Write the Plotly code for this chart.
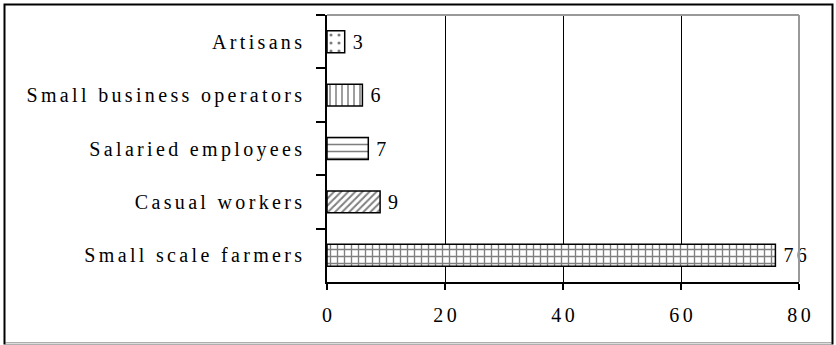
import plotly.graph_objects as go

# Occupation categories (top to bottom) and their shares in percent
categories = [
    "Artisans",
    "Small business operators",
    "Salaried employees",
    "Casual workers",
    "Small scale farmers",
]
values = [3, 6, 7, 9, 76]
patterns = [".", "|", "-", "/", "+"]
x_ticks = [0, 20, 40, 60, 80]

TRACK = "\u2006"   # six-per-em space used as letter tracking
LEAD = "\u2005"    # small lead-in gap before the bar value labels


def tracked(s):
    """Spread the letters of a label with narrow spaces."""
    return TRACK.join(list(s))


FONT = "Liberation Serif, Times New Roman, serif"
FS = 20

W, H = 836, 345
L, R, T, B = 327, 799, 15, 282

fig = go.Figure(
    go.Bar(
        x=values,
        y=[tracked(c) for c in categories],
        orientation="h",
        text=[LEAD + tracked(str(v)) for v in values],
        textposition="outside",
        textfont=dict(family=FONT, size=FS, color="#000"),
        constraintext="none",
        cliponaxis=False,
        marker=dict(
            color="white",
            line=dict(color="black", width=1.5),
            pattern=dict(
                shape=patterns,
                fgcolor="black",
                bgcolor="white",
                size=[8, 6, 7, 5, 7],
                solidity=[0.12, 0.25, 0.22, 0.4, 0.35],
                fillmode="overlay",
            ),
        ),
        hoverinfo="skip",
    )
)

# plot-area edges in grey, outer frame in black (pixel coordinates)
shapes = [
    dict(type="line", xref="paper", yref="paper", x0=0, x1=1, y0=1, y1=1,
         line=dict(color="#999", width=2), layer="above"),
    dict(type="line", xref="paper", yref="paper", x0=1, x1=1, y0=0, y1=1,
         line=dict(color="#999", width=2), layer="above"),
    dict(type="rect", xref="paper", yref="paper",
         xsizemode="pixel", ysizemode="pixel", xanchor=0, yanchor=1,
         x0=4.5 - L, x1=832.5 - L, y0=T - 4.5, y1=T - 343.5,
         line=dict(color="black", width=2), layer="above"),
    # faint bottom edge of the frame
    dict(type="line", xref="paper", yref="paper",
         xsizemode="pixel", ysizemode="pixel", xanchor=0, yanchor=1,
         x0=5.5 - L, x1=831.5 - L, y0=T - 343.5, y1=T - 343.5,
         line=dict(color="#dddddd", width=2), layer="above"),
]

fig.update_layout(
    width=W,
    height=H,
    margin=dict(l=L, r=W - R, t=T, b=H - B, pad=0),
    paper_bgcolor="white",
    plot_bgcolor="white",
    bargap=0.59,
    showlegend=False,
    font=dict(family=FONT, size=FS, color="#000"),
    xaxis=dict(
        range=[0, 80],
        tickmode="array",
        tickvals=x_ticks,
        ticktext=[tracked(str(v)) for v in x_ticks],
        ticks="outside",
        ticklen=6,
        tickwidth=1.5,
        tickcolor="black",
        showline=True,
        linecolor="black",
        linewidth=2,
        showgrid=True,
        gridcolor="black",
        gridwidth=1.3,
        zeroline=False,
        tickfont=dict(family=FONT, size=FS, color="#000"),
        ticklabelstandoff=8,
    ),
    yaxis=dict(
        type="category",
        autorange="reversed",
        tickson="boundaries",
        ticks="outside",
        ticklen=9,
        tickwidth=1.5,
        tickcolor="black",
        showline=True,
        linecolor="black",
        linewidth=2,
        showgrid=False,
        zeroline=False,
        tickfont=dict(family=FONT, size=FS, color="#000"),
        ticklabelstandoff=19,
    ),
    shapes=shapes,
)

fig.write_html("out.html")
